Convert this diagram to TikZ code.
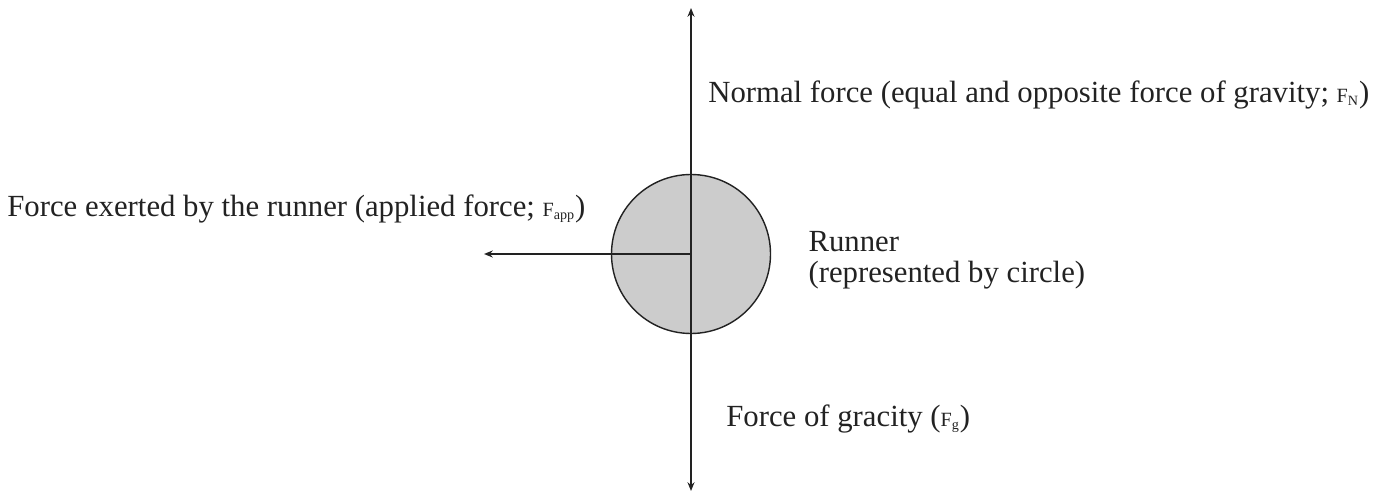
\documentclass[tikz,border=0pt]{standalone}
\usepackage{fontspec}
\setmainfont{Liberation Serif}
\usepackage{xcolor}
\definecolor{bodyfill}{HTML}{CCCCCC}
\definecolor{ink}{HTML}{222222}
\usetikzlibrary{arrows.meta, positioning}
\newcommand{\forcesym}[1]{{\fontsize{11.5}{14}\selectfont F\textsubscript{#1}}}

\begin{document}
\begin{tikzpicture}[x=0.02cm, y=-0.02cm, >={Stealth[length=5pt, width=4pt]},
    font=\fontsize{17.5}{17.5}\selectfont]
  \tikzset{
    force/.style={->, draw=ink, line width=0.8pt},
    label/.style={anchor=west, inner sep=0pt, text=ink, align=left}
  }
  \useasboundingbox (0,0) rectangle (1390,493);

  \node[circle, draw=ink, fill=bodyfill, line width=0.8pt,
        minimum size=159*0.02cm, inner sep=0pt] (runner) at (691,254) {};

  \coordinate (up) at (691,8);
  \coordinate (down) at (691,491);
  \coordinate (left) at (484,254);

  \draw[force] (runner.center) -- (up);
  \draw[force] (runner.center) -- (down);
  \draw[force] (runner.center) -- (left);

  \node[label] (normal) at (708,95)
        {Normal force (equal and opposite force of gravity; \forcesym{N})};
  \node[label] (applied) at (7,209)
        {Force exerted by the runner (applied force; \forcesym{app})};
  \node[label, right=37 of runner, yshift=-3.5pt] (who)
        {Runner\\(represented by circle)};
  \node[label] (gravity) at (726,419) {Force of gracity (\forcesym{g})};
\end{tikzpicture}
\end{document}
